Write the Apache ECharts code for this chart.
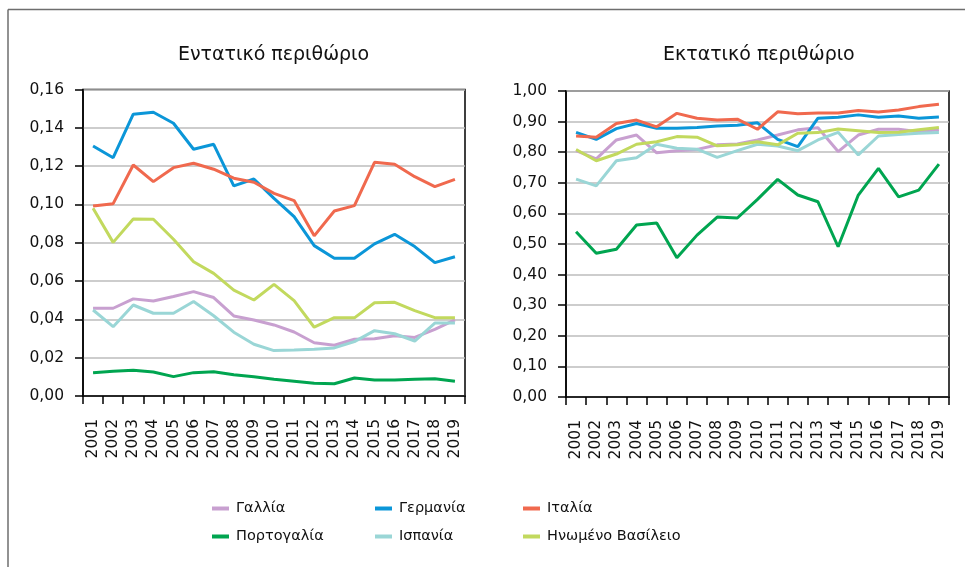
<!DOCTYPE html>
<html><head><meta charset="utf-8">
<script src="https://cdn.jsdelivr.net/npm/echarts@6/dist/echarts.min.js"></script>
<style>html,body{margin:0;padding:0;background:#fff}#c{width:965px;height:567px}</style>
</head><body><div id="c"></div>
<script>
const years = ['2001','2002','2003','2004','2005','2006','2007','2008','2009','2010','2011','2012','2013','2014','2015','2016','2017','2018','2019'];
const seriesNames = ['Γαλλία','Γερμανία','Ιταλία','Πορτογαλία','Ισπανία','Ηνωμένο Βασίλειο'];
const titleLeft = 'Εντατικό περιθώριο';
const titleRight = 'Εκτατικό περιθώριο';

// Intensive margin (left)
const intFrance   = [0.0458,0.0458,0.0507,0.0496,0.0519,0.0545,0.0514,0.0418,0.0397,0.0371,0.0334,0.0278,0.0265,0.0296,0.0299,0.0315,0.0306,0.0348,0.0397];
const intGermany  = [0.1305,0.1244,0.1471,0.1481,0.1424,0.1288,0.1314,0.1097,0.1133,0.1032,0.0936,0.0785,0.0719,0.0719,0.0794,0.0844,0.0780,0.0696,0.0727];
const intItaly    = [0.0992,0.1004,0.1206,0.1119,0.1192,0.1215,0.1184,0.1137,0.1116,0.1058,0.1020,0.0836,0.0966,0.0994,0.1220,0.1210,0.1145,0.1093,0.1131];
const intPortugal = [0.0122,0.0129,0.0134,0.0125,0.0101,0.0122,0.0127,0.0111,0.0101,0.0087,0.0077,0.0066,0.0064,0.0094,0.0084,0.0084,0.0087,0.0090,0.0077];
const intSpain    = [0.0449,0.0362,0.0475,0.0432,0.0432,0.0493,0.0419,0.0333,0.0270,0.0237,0.0240,0.0244,0.0251,0.0284,0.0341,0.0325,0.0287,0.0381,0.0381];
const intUK       = [0.0980,0.0802,0.0924,0.0923,0.0818,0.0701,0.0640,0.0553,0.0501,0.0583,0.0498,0.0359,0.0409,0.0408,0.0487,0.0489,0.0446,0.0409,0.0409];

// Extensive margin (right)
const extFrance   = [0.805,0.778,0.840,0.856,0.798,0.805,0.809,0.824,0.827,0.840,0.856,0.873,0.880,0.802,0.856,0.875,0.875,0.867,0.873];
const extGermany  = [0.865,0.842,0.877,0.894,0.878,0.878,0.881,0.886,0.888,0.896,0.842,0.818,0.911,0.914,0.922,0.914,0.918,0.911,0.915];
const extItaly    = [0.853,0.849,0.894,0.905,0.883,0.927,0.911,0.905,0.908,0.875,0.932,0.926,0.928,0.928,0.936,0.931,0.938,0.949,0.957];
const extPortugal = [0.540,0.470,0.483,0.562,0.569,0.455,0.529,0.588,0.585,0.646,0.711,0.660,0.638,0.491,0.660,0.747,0.654,0.676,0.761];
const extSpain    = [0.712,0.690,0.772,0.782,0.826,0.813,0.810,0.783,0.805,0.826,0.820,0.805,0.840,0.865,0.791,0.853,0.858,0.862,0.864];
const extUK       = [0.809,0.772,0.794,0.826,0.834,0.851,0.849,0.821,0.824,0.834,0.824,0.862,0.864,0.876,0.870,0.864,0.865,0.873,0.881];

const colors = ['#c8a0d0','#0b96d8','#f0694e','#00a550','#9ad6d6','#c2d95e'];
const intData = [intFrance,intGermany,intItaly,intPortugal,intSpain,intUK];
const extData = [extFrance,extGermany,extItaly,extPortugal,extSpain,extUK];

const FONT = '"DejaVu Sans", sans-serif';
const fmt = v => v.toFixed(2).replace('.', ',');

function xAxis(gi){
  return {type:'category', gridIndex:gi, data:years, boundaryGap:true,
    axisLine:{lineStyle:{color:'#000',width:1.5}},
    axisTick:{show:true, inside:false, length:8, alignWithLabel:false, lineStyle:{color:'#000',width:1.5}},
    axisLabel:{rotate:90, interval:0, margin:23, fontSize:15.5, color:'#111', fontFamily:FONT}};
}
function yAxis(gi,max,interval){
  return {type:'value', gridIndex:gi, min:0, max:max, interval:interval,
    axisLine:{show:true, lineStyle:{color:'#000',width:1.5}},
    axisTick:{show:true, length:8, lineStyle:{color:'#000',width:1.5}},
    splitLine:{show:true, lineStyle:{color:'#bdbdbd',width:1.5}},
    axisLabel:{formatter:fmt, margin:19, fontSize:15.5, color:'#111', fontFamily:FONT}};
}

const series = [];
seriesNames.forEach((n,i)=>{
  series.push({name:n,type:'line',xAxisIndex:0,yAxisIndex:0,data:intData[i],symbol:'none',
    lineStyle:{width:3,color:colors[i]},itemStyle:{color:colors[i]},z:i===3?5:3});
  series.push({name:n,type:'line',xAxisIndex:1,yAxisIndex:1,data:extData[i],symbol:'none',
    lineStyle:{width:3,color:colors[i]},itemStyle:{color:colors[i]},z:i===3?5:3});
});

const legendPos = [[207,496],[370,496],[518,496],[207,524],[370,524],[518,524]];
const legends = seriesNames.map((n,i)=>({
  data:[n], left:legendPos[i][0], top:legendPos[i][1], icon:'rect', itemWidth:17, itemHeight:4,
  textStyle:{fontSize:14.5, color:'#111', fontFamily:FONT, padding:[0,0,0,2]}, selectedMode:false
}));

const chart = echarts.init(document.getElementById('c'), null, {renderer:'canvas'});
chart.setOption({
  animation:false,
  color:colors,
  title:[
    {text:titleLeft, left:173, top:41, textStyle:{fontSize:19, fontWeight:'normal', color:'#111', fontFamily:FONT}},
    {text:titleRight, left:658, top:41, textStyle:{fontSize:19, fontWeight:'normal', color:'#111', fontFamily:FONT}}
  ],
  legend:legends,
  grid:[
    {left:83, right:500, top:89.5, bottom:171, show:true, borderColor:'#000', borderWidth:1.5, containLabel:false},
    {left:566, right:16, top:91, bottom:170, show:true, borderColor:'#000', borderWidth:1.5, containLabel:false}
  ],
  xAxis:[xAxis(0),xAxis(1)],
  yAxis:[yAxis(0,0.16,0.02),yAxis(1,1.0,0.1)],
  series:series,
  graphic:[
    {type:'line', shape:{x1:8,y1:9.5,x2:965,y2:9.5}, style:{stroke:'#6e6e6e',lineWidth:1.5}, silent:true},
    {type:'line', shape:{x1:8,y1:9.5,x2:8,y2:567}, style:{stroke:'#6e6e6e',lineWidth:1.5}, silent:true}
  ]
});
</script>
</body></html>
